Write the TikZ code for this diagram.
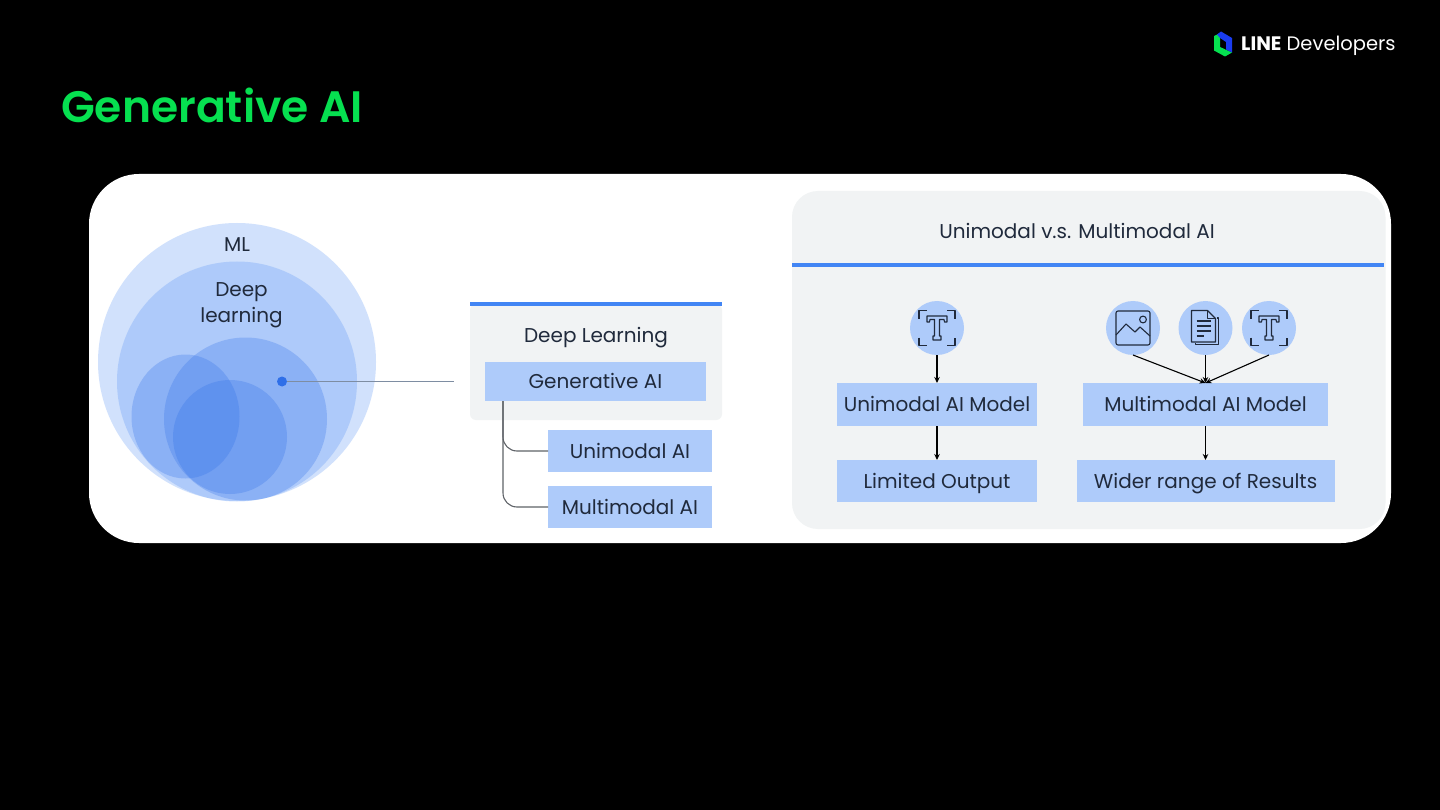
\documentclass[tikz,border=0pt]{standalone}
\usepackage{fontspec}
\setmainfont{Poppins}
\newfontfamily\titlefont{Poppins SemiBold}
\usetikzlibrary{arrows.meta,calc}
\definecolor{lgreen}{HTML}{06E050}
\definecolor{gblue}{HTML}{4285F4}
\definecolor{gdeep}{HTML}{2F6FE8}
\definecolor{lblue}{HTML}{1A3CF0}
\definecolor{gbox}{HTML}{AECBFA}
\definecolor{gpanel}{HTML}{F1F3F4}
\definecolor{ink}{HTML}{202A3C}
\definecolor{wire}{HTML}{5F6368}
\tikzset{
  venn/.style={draw=none,fill=gblue,fill opacity=.24},
  venn inner/.style={draw=none,fill=gdeep,fill opacity=.27},
  label text/.style={text=ink,font=\fontsize{20}{25}\selectfont,inner sep=0pt,text height=14pt,text depth=0pt},
  bluebox/.style={label text,draw=none,fill=gbox,inner sep=0pt,outer sep=0pt,anchor=center},
  iconcircle/.style={circle,draw=none,fill=gbox,minimum size=54pt,inner sep=0pt,outer sep=0pt},
  flow/.style={draw=black,line width=1.1pt,-{Stealth[length=6pt,width=5.5pt]}},
  icon line/.style={draw=ink,line width=1.1pt,line join=round},
  pics/ticon/.style={code={
    \draw[icon line] (-18,-9.5)--(-18,-17.5)--(-10,-17.5) (10,-17.5)--(18,-17.5)--(18,-9.5)
      (-18,9.5)--(-18,17.5)--(-10,17.5) (10,17.5)--(18,17.5)--(18,9.5);
    \draw[icon line] (-10,-12)--(10,-12)--(10,-6)--(7.5,-6)--(7,-8.5)--(2.5,-8.5)--(2.5,8)--(4,8)--(4,12)--(-4,12)--(-4,8)--(-2.5,8)--(-2.5,-8.5)--(-7,-8.5)--(-7.5,-6)--(-10,-6)--cycle;
  }},
  pics/imgicon/.style={code={
    \draw[icon line,rounded corners=2pt] (-17,-17) rectangle (17,17);
    \draw[icon line] (10,-8.5) circle (3.4);
    \draw[icon line] (-17,7)--(-7,-4)--(2,4)--(7,-1)--(17,8);
  }},
  pics/docicon/.style={code={
    \draw[icon line] (-10,15)--(-10,16.5)--(13,16.5)--(13,-10)--(11,-10);
    \draw[icon line,fill=gbox] (-14,-17.5)--(2,-17.5)--(10,-9.5)--(10,14)--(-14,14)--cycle;
    \draw[icon line] (2,-17.5)--(2,-9.5)--(10,-9.5);
    \draw[icon line] (-9,-7)--(5,-7) (-9,-2)--(5,-2) (-9,3)--(5,3) (-9,8)--(-2,8);
  }}
}
\begin{document}
\begin{tikzpicture}[x=1pt,y=-1pt]
\useasboundingbox (0,0) rectangle (1440,810);
\fill[black] (0,0) rectangle (1440,810);
% title
\node[anchor=west,text=lgreen,font=\fontsize{44}{50}\titlefont,inner sep=0pt] (title) at (61,105) {Generative AI};
% logo
\fill[lgreen] (1214,36)--(1220,33)--(1220,47)--(1232,52.5)--(1225,56.5)--(1214,50.5)--cycle;
\fill[lblue] (1217,34.5)--(1221,31.5)--(1232,38)--(1232,52.5)--(1226,49.5)--(1226,42)--(1220,38)--cycle;
\node[anchor=west,text=white,inner sep=0pt,font=\fontsize{19.5}{22}\selectfont,text height=14pt,text depth=0pt] (logotext) at (1241,44) {{\bfseries LINE} Developers};
% panels
\fill[white,rounded corners=50pt] (89,174) rectangle (1391,543);
\fill[gpanel,rounded corners=26pt] (792,191) rectangle (1385.5,529);
\fill[gblue] (792,263) rectangle (1384,267);
\node[label text] (vs) at (1077,232) {Unimodal v.s. Multimodal AI};
% venn
\fill[venn] (237,362) circle (139);
\fill[venn] (237,381.5) circle (120);
\fill[venn inner] (245.5,419) circle (81.5);
\fill[venn inner] (185.5,416.5) ellipse (54 and 62);
\fill[venn inner] (230,437) circle (57);
\node[label text] (ml) at (237,245) {ML};
\node[text=ink,font=\fontsize{20}{26.5}\selectfont,inner sep=0pt,align=center] (deep) at (241.5,305) {Deep\\learning};
\node[circle,fill=gdeep,minimum size=10pt,inner sep=0pt,outer sep=0pt] (dot) at (282,381.5) {};
\coordinate (leaderend) at (454,381.5);
\draw[wire!60!gbox,line width=1.4pt] (dot) -- (leaderend);
% middle card
\fill[gpanel,rounded corners=6pt] (470,304) rectangle (722,420);
\fill[gblue] (470,302) rectangle (722,306.5);
\node[label text] (dl) at (596,335) {Deep Learning};
\node[bluebox,minimum width=221pt,minimum height=39pt] (gen) at (595.5,381.5) {Generative AI};
\node[bluebox,minimum width=164pt,minimum height=42pt] (uni) at (630,451) {Unimodal AI};
\node[bluebox,minimum width=164pt,minimum height=42pt] (mul) at (630,507) {Multimodal AI};
\coordinate (trunk) at (503,401);
\draw[wire,line width=1.1pt,rounded corners=14pt] (trunk) |- (uni.west);
\draw[wire,line width=1.1pt,rounded corners=14pt] (trunk) |- (mul.west);
% left flow
\node[iconcircle] (t1) at (937,328) {};
\pic at (t1) {ticon};
\node[bluebox,minimum width=200pt,minimum height=43pt] (um) at (937,404.5) {Unimodal AI Model};
\node[bluebox,minimum width=200pt,minimum height=42pt] (lo) at (937,481) {Limited Output};
\draw[flow] (t1.south) -- (um.north);
\draw[flow] (um.south) -- (lo.north);
% right flow
\node[iconcircle] (img) at (1133,328) {};
\pic at (img) {imgicon};
\node[iconcircle] (doc) at (1205.5,328) {};
\pic at (doc) {docicon};
\node[iconcircle] (t2) at (1269,328) {};
\pic at (t2) {ticon};
\node[bluebox,minimum width=245pt,minimum height=43pt] (mm) at (1205.5,404.5) {Multimodal AI Model};
\node[bluebox,minimum width=258pt,minimum height=42pt] (wr) at (1205.5,481) {Wider range of Results};
\draw[flow] (img.south) -- (mm.north);
\draw[flow] (doc.south) -- (mm.north);
\draw[flow] (t2.south) -- (mm.north);
\draw[flow] (mm.south) -- (wr.north);
\end{tikzpicture}
\end{document}
